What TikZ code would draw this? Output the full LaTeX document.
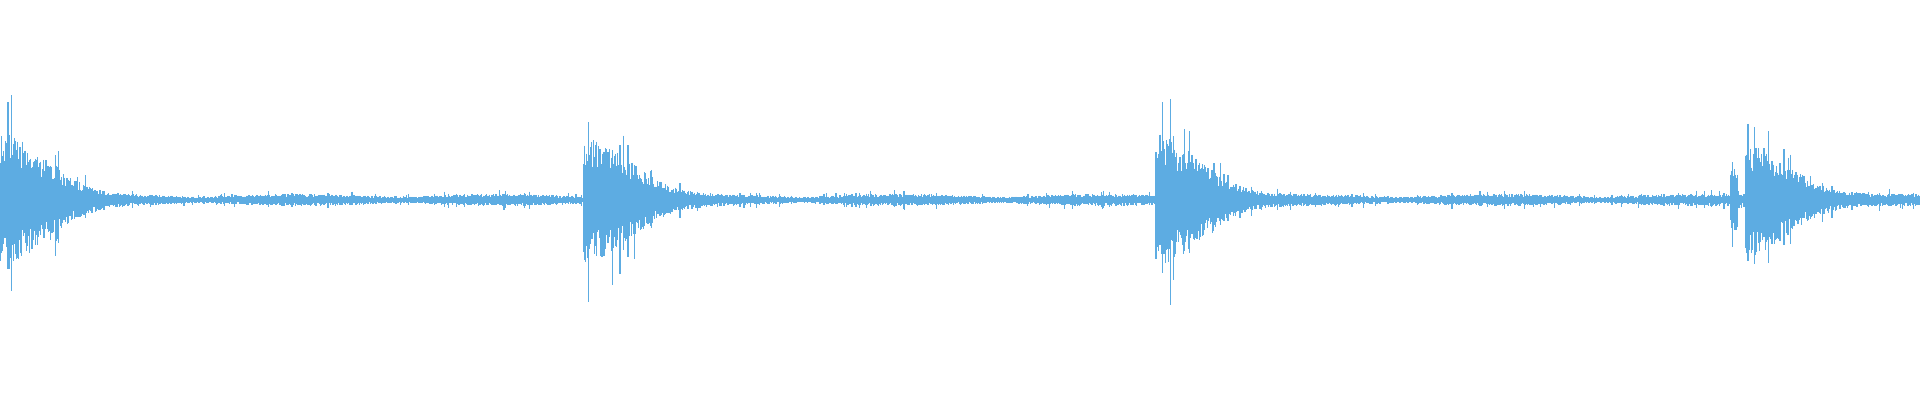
\documentclass[tikz,border=0pt]{standalone}
\begin{document}
\begin{tikzpicture}[x=1pt,y=1pt,
wave/.style={draw=wavecol,line width=1.1pt}]
\definecolor{wavecol}{RGB}{93,172,226}
\useasboundingbox (0,0) rectangle (1920,400);
\pgfmathsetseed{7}
% envelope: noise floor plus four decaying bursts
\foreach \x in {0,0.8,...,1920}{
  \pgfmathsetmacro\env{3+3*abs(sin(\x*0.9))
    +62*(\x>=0)*exp(-(max(\x-0,0)/62)^2)
    +60*(\x>=584)*exp(-(max(\x-584,0)/62)^2)
    +62*(\x>=1155)*exp(-(max(\x-1155,0)/62)^2)
    +25*(\x>=1730)*(\x<1738)
    +52*(\x>=1745)*exp(-(max(\x-1745,0)/62)^2)}
  \pgfmathsetmacro\spk{(rnd>0.92)*0.7+1}
  \pgfmathsetmacro\up{\env*(0.5+0.5*rnd)*\spk}
  \pgfmathsetmacro\dn{\env*(0.5+0.5*rnd)*\spk}
  \draw[wave] (\x,200+\up) -- (\x,200-\dn);
}
\end{tikzpicture}
\end{document}
